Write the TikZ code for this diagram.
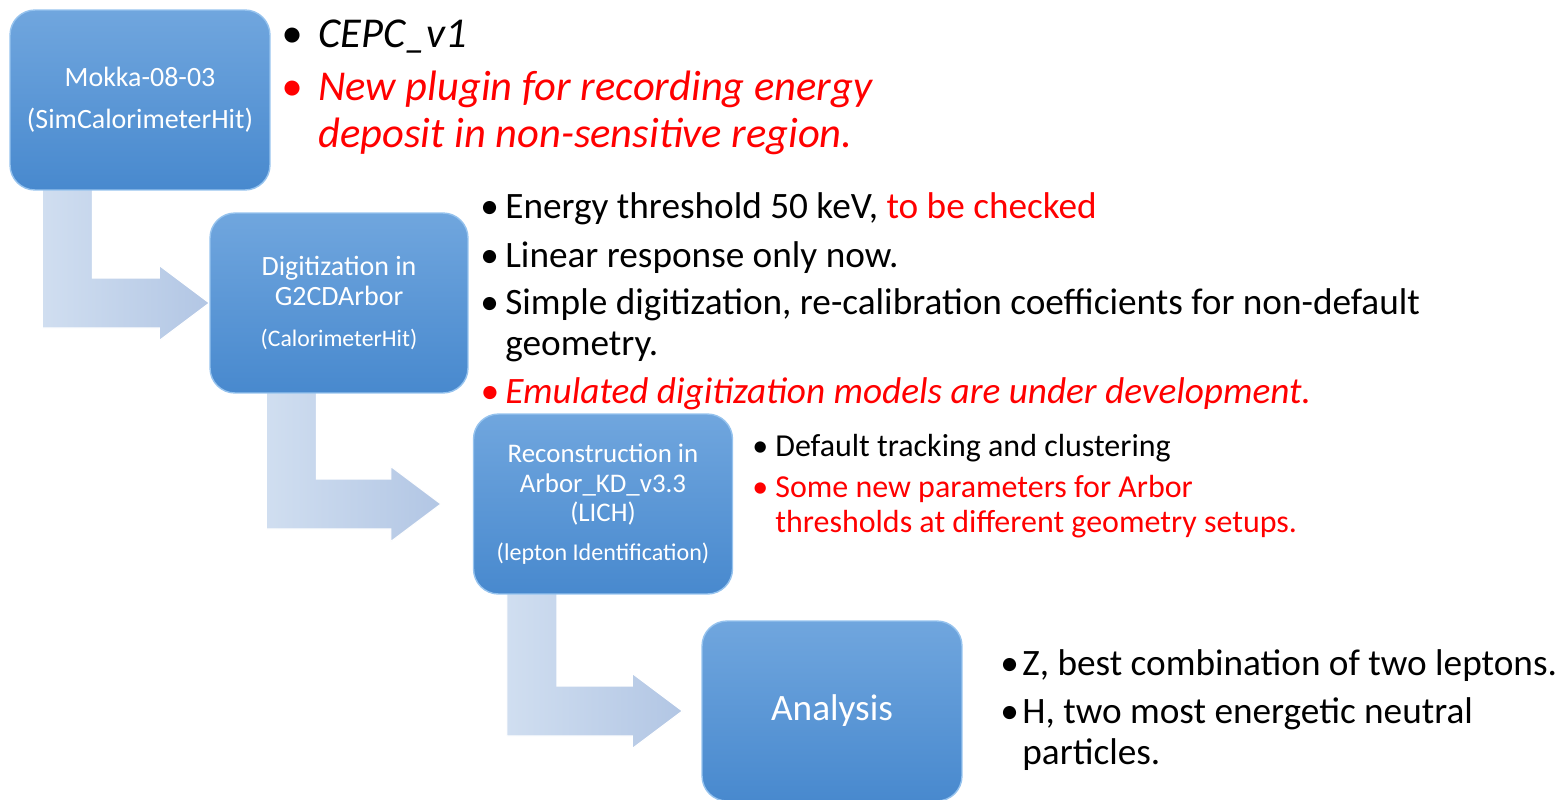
\documentclass[tikz,border=0pt]{standalone}
\usepackage{fontspec}
\setmainfont{Carlito}
\usetikzlibrary{calc}
\usetikzlibrary{backgrounds}

\definecolor{boxtop}{RGB}{112,166,222}
\definecolor{boxbot}{RGB}{72,137,206}
\definecolor{boxrim}{RGB}{150,195,238}
\definecolor{elbowA}{RGB}{208,222,240}
\definecolor{elbowB}{RGB}{178,198,228}
\definecolor{hl}{RGB}{255,0,0}

\tikzset{
  stage/.style={rounded corners=0.5cm, top color=boxtop, bottom color=boxbot,
    draw=boxrim, line width=0.8pt, text=white, align=center,
    minimum width=5.2cm, minimum height=3.6cm, inner sep=2pt},
  note/.style={anchor=base west, align=left, inner sep=0pt},
  elbowfill/.style={left color=elbowA, right color=elbowB, draw=white, line width=0.6pt}
}

% item with bullet in a box of width #1
\newcommand{\itm}[2]{\makebox[#1][l]{\textbullet}#2}

% bent arrow from below one stage to the left side of the next
\newcommand{\elbow}[4]{%
  \path[elbowfill] let \p1=(#1.south west), \p2=(#2.west) in
    (\x1+#3,\y1+2pt) -- (\x1+#3+1cm,\y1+2pt) -- (\x1+#3+1cm,\y2+0.5cm)
    -- (\x2-#4-1cm,\y2+0.5cm) -- (\x2-#4-1cm,\y2+0.75cm) -- (\x2-#4,\y2)
    -- (\x2-#4-1cm,\y2-0.75cm) -- (\x2-#4-1cm,\y2-0.5cm) -- (\x1+#3,\y2-0.5cm) -- cycle;}

\begin{document}
\begin{tikzpicture}[x=0.02cm, y=-0.02cm]
  \useasboundingbox (0,0) rectangle (1561,799);

  % stages
  \node[stage, font=\fontsize{15.9pt}{24pt}\selectfont] (mokka) at (140,100)
    {Mokka-08-03\\(SimCalorimeterHit)};
  \node[stage, minimum width=5.16cm, font=\fontsize{15.9pt}{17pt}\selectfont] (digi) at (339,303)
    {Digitization in\\G2CDArbor\\[6pt]{\fontsize{13.5pt}{14pt}\selectfont (CalorimeterHit)}};
  \node[stage, minimum width=5.18cm, font=\fontsize{15.3pt}{16.8pt}\selectfont] (reco) at (603,504)
    {Reconstruction in\\Arbor\_KD\_v3.3\\(LICH)\\[5pt]{\fontsize{13.7pt}{14pt}\selectfont (lepton Identification)}};
  \node[stage, font=\fontsize{21.2pt}{24pt}\selectfont] (ana) at (832,711) {Analysis};

  % arrows between stages
  \begin{scope}[on background layer]
    \elbow{mokka}{digi}{0.66cm}{0cm}
    \elbow{digi}{reco}{1.14cm}{0.64cm}
    \elbow{reco}{ana}{0.68cm}{0.38cm}
  \end{scope}

  % notes (multi-line ones sit on their last baseline)
  \node[note, font=\fontsize{24.2pt}{26.2pt}\selectfont\itshape] (n1a) at (281,47)
    {\itm{0.74cm}{CEPC\_v1}};
  \node[note, font=\fontsize{24.2pt}{26.2pt}\selectfont\itshape, text=hl] (n1b) at (281,147)
    {\itm{0.74cm}{New plugin for recording energy}\\\hspace*{0.74cm}deposit in non-sensitive region.};

  \node[note, font=\fontsize{21.2pt}{23.3pt}\selectfont] (n2a) at (480,218)
    {\itm{0.5cm}{Energy threshold 50 keV, \textcolor{hl}{to be checked}}};
  \node[note, font=\fontsize{21.2pt}{23.3pt}\selectfont] (n2b) at (480,267)
    {\itm{0.5cm}{Linear response only now.}};
  \node[note, font=\fontsize{21.2pt}{23.3pt}\selectfont] (n2c) at (480,355)
    {\itm{0.5cm}{Simple digitization, re-calibration coefficients for non-default}\\\hspace*{0.5cm}geometry.};
  \node[note, font=\fontsize{21.2pt}{23.3pt}\selectfont\itshape, text=hl] (n2d) at (480,403)
    {\itm{0.5cm}{Emulated digitization models are under development.}};

  \node[note, font=\fontsize{18.2pt}{19.9pt}\selectfont] (n3a) at (752,456)
    {\itm{0.46cm}{Default tracking and clustering}};
  \node[note, font=\fontsize{18.2pt}{19.9pt}\selectfont, text=hl] (n3b) at (752,532)
    {\itm{0.46cm}{Some new parameters for Arbor}\\\hspace*{0.46cm}thresholds at different geometry setups.};

  \node[note, font=\fontsize{21.2pt}{23.3pt}\selectfont] (n4a) at (1000,675)
    {\itm{0.44cm}{Z, best combination of two leptons.}};
  \node[note, font=\fontsize{21.2pt}{23.3pt}\selectfont] (n4b) at (1000,764)
    {\itm{0.44cm}{H, two most energetic neutral}\\\hspace*{0.44cm}particles.};
\end{tikzpicture}
\end{document}
